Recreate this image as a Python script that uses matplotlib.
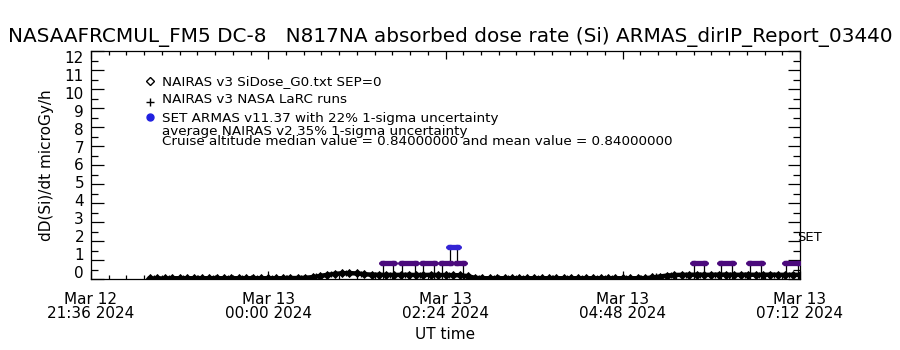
import numpy as np
import pandas as pd
import matplotlib
matplotlib.use('Agg')
import matplotlib.pyplot as plt
from matplotlib.ticker import AutoMinorLocator, MultipleLocator
from matplotlib.path import Path
from matplotlib.transforms import ScaledTranslation

plt.rcParams.update({'font.family': 'DejaVu Sans'})

# NAIRAS v3 SiDose_G0 model dose rate, every 6 minutes from 22:24 UT
nairas_start = '2024-03-12 22:24'
nairas_dose = [0.03, 0.03, 0.03, 0.04, 0.04, 0.04, 0.04, 0.04, 0.04, 0.04,
               0.04, 0.04, 0.04, 0.04, 0.04, 0.04, 0.04, 0.04, 0.04, 0.05,
               0.05, 0.06, 0.10, 0.16, 0.22, 0.27, 0.30, 0.31, 0.29, 0.25,
               0.23, 0.22, 0.22, 0.21, 0.22, 0.22, 0.21, 0.21, 0.22, 0.21,
               0.21, 0.20, 0.20, 0.15, 0.06, 0.04, 0.04, 0.04, 0.04, 0.04,
               0.04, 0.04, 0.04, 0.04, 0.04, 0.04, 0.04, 0.04, 0.04, 0.04,
               0.04, 0.04, 0.04, 0.04, 0.04, 0.04, 0.04, 0.04, 0.08, 0.13,
               0.18, 0.21, 0.22, 0.22, 0.23, 0.22, 0.22, 0.23, 0.23, 0.22,
               0.22, 0.23, 0.22, 0.22, 0.23, 0.22, 0.22, 0.22, 0.22]

# NAIRAS v3 NASA LaRC runs, every 12 minutes from 22:27 UT
larc_start = '2024-03-12 22:27'
larc_dose = [0.03, 0.04, 0.04, 0.04, 0.04, 0.04, 0.04, 0.04, 0.04, 0.05,
             0.06, 0.18, 0.28, 0.30, 0.24, 0.22, 0.22, 0.22, 0.21, 0.21,
             0.20, 0.12, 0.04, 0.04, 0.04, 0.04, 0.04, 0.04, 0.04, 0.04,
             0.04, 0.04, 0.04, 0.05, 0.15, 0.21, 0.22, 0.23, 0.22, 0.22,
             0.23, 0.22, 0.22, 0.22]

# SET ARMAS v11.37 measurement segments
armas_start = ['2024-03-13 01:33', '2024-03-13 01:49', '2024-03-13 02:06',
               '2024-03-13 02:21', '2024-03-13 02:28', '2024-03-13 02:33',
               '2024-03-13 05:46', '2024-03-13 06:08', '2024-03-13 06:31',
               '2024-03-13 07:01']
armas_end = ['2024-03-13 01:41', '2024-03-13 01:59', '2024-03-13 02:15',
             '2024-03-13 02:28', '2024-03-13 02:33', '2024-03-13 02:38',
             '2024-03-13 05:54', '2024-03-13 06:17', '2024-03-13 06:40',
             '2024-03-13 07:10']
armas_dose = [0.84, 0.84, 0.84, 0.84, 1.68, 0.84, 0.84, 0.84, 0.84, 0.84]

x_ticks = ['2024-03-12 21:36', '2024-03-13 00:00', '2024-03-13 02:24',
           '2024-03-13 04:48', '2024-03-13 07:12']
x_ticklabels = ['Mar 12\n21:36 2024', 'Mar 13\n00:00 2024', 'Mar 13\n02:24 2024',
                'Mar 13\n04:48 2024', 'Mar 13\n07:12 2024']
y_ticks = list(range(13))

t0 = pd.Timestamp(x_ticks[0])


def minutes(t):
    return (pd.to_datetime(t) - t0) / pd.Timedelta(minutes=1)


nairas_t = minutes(pd.date_range(nairas_start, periods=len(nairas_dose), freq='6min'))
larc_t = minutes(pd.date_range(larc_start, periods=len(larc_dose), freq='12min'))
seg_start = np.asarray(minutes(armas_start))
seg_end = np.asarray(minutes(armas_end))

fig = plt.figure(figsize=(9, 3.5), dpi=100)
ax = fig.add_axes([91 / 900, 1 - 279 / 350, 709 / 900, 228 / 350])

# ARMAS trace: legs drop to zero between flight segments
path_t, path_v = [], []
prev_end, prev_val = None, 0.0
for s, e, v in zip(seg_start, seg_end, armas_dose):
    if prev_end is not None and s == prev_end:
        path_t += [s, s]
        path_v += [prev_val, v]
    else:
        if prev_end is not None:
            path_t += [prev_end]
            path_v += [0.0]
        path_t += [s, s]
        path_v += [0.0, v]
    path_t.append(e)
    path_v.append(v)
    prev_end, prev_val = e, v
path_t.append(prev_end)
path_v.append(0.0)
ax.plot(path_t, path_v, color='black', lw=0.9, zorder=2)

# flat ellipse used as the ARMAS point symbol
th = np.linspace(0, 2 * np.pi, 40)
blob = Path(np.column_stack([np.cos(th), 0.6 * np.sin(th)]), closed=True)

for s, e, v in zip(seg_start, seg_end, armas_dose):
    c = '#3424d4' if v > 1.0 else '#4b0a7c'
    ax.plot([s, e], [v, v], color=c, lw=3.8, zorder=3)
    ax.plot([s, e], [v, v], ls='none', marker=blob, ms=6.5, mew=0, color=c, zorder=3)

# NAIRAS model curves
ax.plot(nairas_t, nairas_dose, color='black', lw=3.2, zorder=4)
ax.plot(nairas_t, nairas_dose, 'D', ms=3.6, mfc='black', mec='black', mew=0.6, zorder=5)
ax.plot(larc_t, larc_dose, '+', ms=5, color='black', mew=1.0, zorder=5)

ax.set_xlim(0, minutes(x_ticks[-1]))
ax.set_ylim(0, 12)
ax.set_xticks(minutes(x_ticks))
ax.set_xticklabels(x_ticklabels, linespacing=1.0)
ax.set_yticks(y_ticks)
ax.xaxis.set_minor_locator(AutoMinorLocator(10))
ax.yaxis.set_minor_locator(MultipleLocator(0.5))
ax.tick_params(which='both', direction='in', top=True, right=True, width=0.9,
               labelsize=11)
ax.tick_params(axis='y', which='major', length=9, pad=5)
ax.tick_params(axis='y', which='minor', length=5)
ax.tick_params(axis='x', which='major', length=6, pad=9)
ax.tick_params(axis='x', which='minor', length=3)
for sp in ax.spines.values():
    sp.set_linewidth(0.9)

# y labels sit a little inside the end ticks
for tick, loc in zip(ax.yaxis.get_major_ticks(), ax.get_yticks()):
    shift = (7 - 1.08 * loc) / 100
    tick.label1.set_transform(tick.label1.get_transform()
                              + ScaledTranslation(0, shift, fig.dpi_scale_trans))

ax.set_xlabel('UT time', fontsize=11, labelpad=4)
ax.set_ylabel('dD(Si)/dt microGy/h', fontsize=11, labelpad=8)

fig.text(0.5, 1 - 37 / 350,
         'NASAAFRCMUL_FM5 DC-8   N817NA absorbed dose rate (Si) ARMAS_dirIP_Report_03440',
         ha='center', va='center', fontsize=14.4)

# legend block inside the axes
tf = ax.transAxes
ax.plot([0.083], [0.868], 'D', ms=4, mfc='white', mec='black', mew=1, transform=tf, clip_on=False)
ax.plot([0.083], [0.778], '+', ms=6, color='black', mew=1, transform=tf, clip_on=False)
ax.plot([0.083], [0.711], 'o', ms=5, color='#2020e0', transform=tf, clip_on=False)
legend_lines = [(0.868, 'NAIRAS v3 SiDose_G0.txt SEP=0'),
                (0.789, 'NAIRAS v3 NASA LaRC runs'),
                (0.706, 'SET ARMAS v11.37 with 22% 1-sigma uncertainty'),
                (0.645, 'average NAIRAS v2 35% 1-sigma uncertainty'),
                (0.601, 'Cruise altitude median value = 0.84000000 and mean value = 0.84000000')]
for y, txt in legend_lines:
    ax.text(0.100, y, txt, transform=tf, fontsize=9.7, va='center', ha='left')

ax.text(minutes('2024-03-13 07:10'), 2.2, 'SET', fontsize=9.5, va='center', ha='left',
        clip_on=False)

fig.savefig('out.png', dpi=100)
